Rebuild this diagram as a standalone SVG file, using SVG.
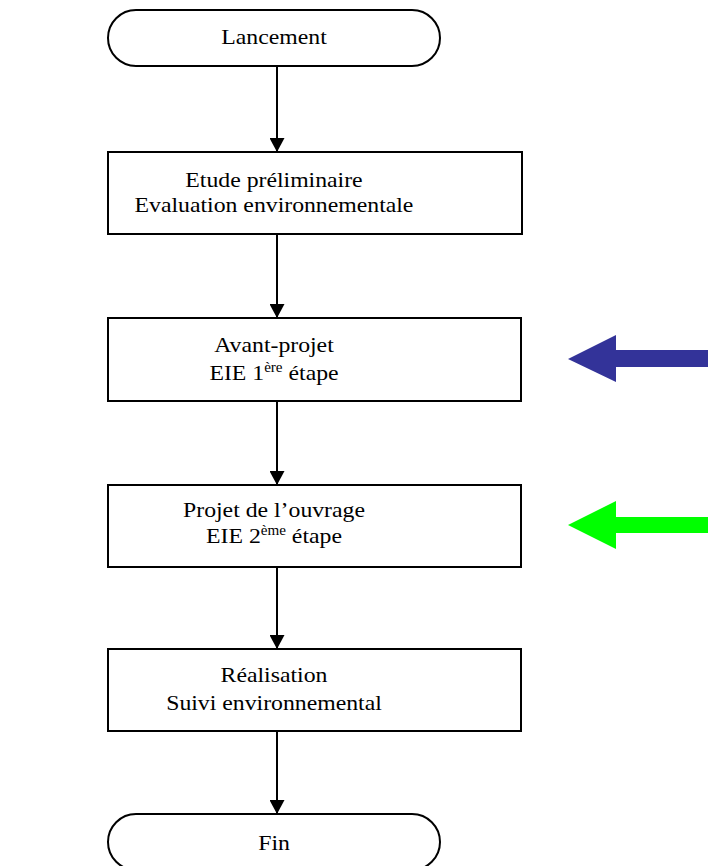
<svg xmlns="http://www.w3.org/2000/svg" width="708" height="866" viewBox="0 0 708 866">
<style>
.box{fill:#fff;stroke:#000;stroke-width:2}
.t{font-family:"Liberation Serif","Times New Roman",serif;font-size:22px;fill:#000;text-anchor:middle}
.sup{font-size:14px}
.c{stroke:#000;stroke-width:2;fill:none}
</style>
<defs>
<marker id="ah" markerWidth="14" markerHeight="15" refX="14" refY="7.5" orient="auto" markerUnits="userSpaceOnUse">
<path d="M0,0 L14,7.5 L0,15 Z" fill="#000"/>
</marker>
</defs>
<rect width="708" height="866" fill="#fff"/>
<g id="lancement">
<rect class="box" x="108" y="10" width="332" height="56" rx="28" ry="28"/>
<text class="t" transform="translate(274,44) scale(1.08,1)">Lancement</text>
</g>
<g id="etude">
<rect class="box" x="108" y="152" width="414" height="82"/>
<text class="t" transform="translate(274,187) scale(1.08,1)">Etude préliminaire</text>
<text class="t" transform="translate(274,212) scale(1.08,1)">Evaluation environnementale</text>
</g>
<g id="avant-projet">
<rect class="box" x="108" y="318" width="413" height="83"/>
<text class="t" transform="translate(274,352) scale(1.08,1)">Avant-projet</text>
<text class="t" transform="translate(274,380) scale(1.08,1)">EIE 1<tspan class="sup" dy="-8">ère</tspan><tspan dy="8"> étape</tspan></text>
</g>
<g id="projet">
<rect class="box" x="108" y="485" width="413" height="82"/>
<text class="t" transform="translate(274,517) scale(1.08,1)">Projet de l’ouvrage</text>
<text class="t" transform="translate(274,543) scale(1.08,1)">EIE 2<tspan class="sup" dy="-8">ème</tspan><tspan dy="8"> étape</tspan></text>
</g>
<g id="realisation">
<rect class="box" x="108" y="649" width="413" height="82"/>
<text class="t" transform="translate(274,682) scale(1.08,1)">Réalisation</text>
<text class="t" transform="translate(274,710) scale(1.08,1)">Suivi environnemental</text>
</g>
<g id="fin">
<rect class="box" x="108" y="814" width="332" height="56" rx="28" ry="28"/>
<text class="t" transform="translate(274,850) scale(1.08,1)">Fin</text>
</g>
<g id="connectors">
<line class="c" x1="277" y1="66" x2="277" y2="152" marker-end="url(#ah)"/>
<line class="c" x1="277" y1="234" x2="277" y2="318" marker-end="url(#ah)"/>
<line class="c" x1="277" y1="401" x2="277" y2="485" marker-end="url(#ah)"/>
<line class="c" x1="277" y1="567" x2="277" y2="649" marker-end="url(#ah)"/>
<line class="c" x1="277" y1="731" x2="277" y2="814" marker-end="url(#ah)"/>
</g>
<g id="blue-arrow">
<path d="M568,359 L616,335 L616,350 L708,350 L708,367 L616,367 L616,382 Z" fill="#333399"/>
</g>
<g id="green-arrow">
<path d="M568,525 L616,501 L616,517 L708,517 L708,533 L616,533 L616,549 Z" fill="#00FF00"/>
</g>
</svg>
